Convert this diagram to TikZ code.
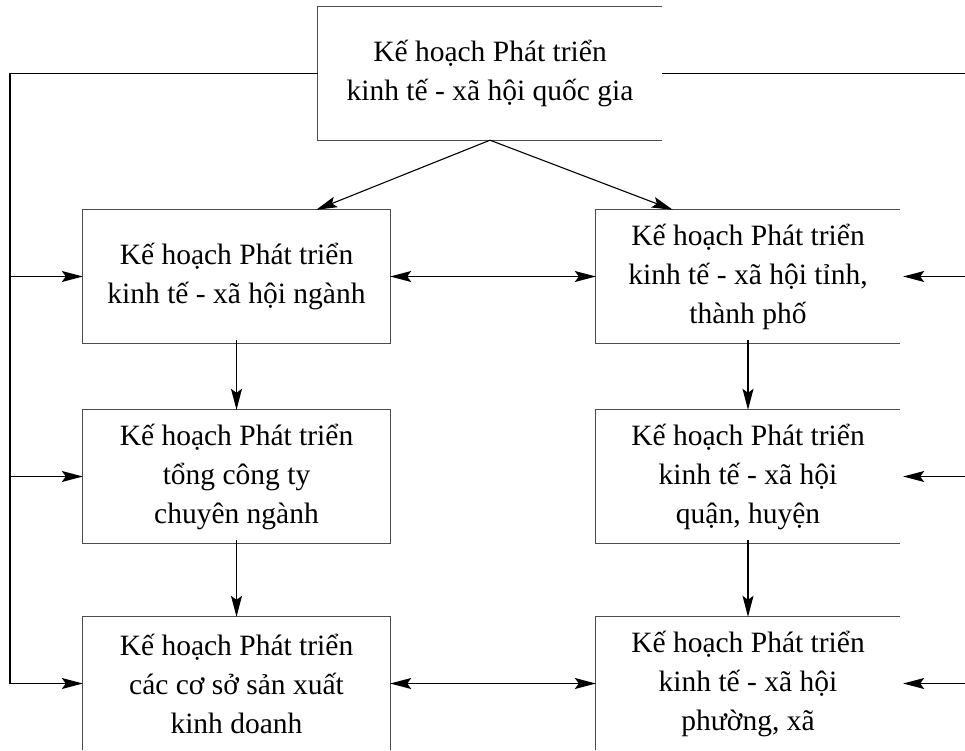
\documentclass[tikz,border=0pt]{standalone}
\usepackage{fontspec}
\setmainfont{Liberation Serif}
\usepackage{tikz}
\usetikzlibrary{arrows.meta,positioning,calc}

\begin{document}
\begin{tikzpicture}[x=1pt,y=-1pt,
  font=\fontsize{29.5}{39}\selectfont,
  plan/.style={align=center,minimum height=133pt,inner sep=0pt},
  edge/.style={draw=black!70,line width=1.3pt},
  arr/.style={->,>={Stealth[length=21pt,width=11pt,inset=4pt]},line width=1.1pt},
  darr/.style={<->,>={Stealth[length=21pt,width=11pt,inset=4pt]},line width=1.1pt},
]
  \useasboundingbox (0,0) rectangle (965,751);

  % levels
  \node[plan,minimum width=344pt] (qg) at (490,73.5) {Kế hoạch Phát triển\\kinh tế - xã hội quốc gia};
  \node[plan,minimum width=307pt] (nganh) at (236.5,276.5) {Kế hoạch Phát triển\\kinh tế - xã hội ngành};
  \node[plan,minimum width=304pt] (tinh) at (748,276.5) {Kế hoạch Phát triển\\kinh tế - xã hội tỉnh,\\thành phố};
  \node[plan,minimum width=307pt] (tct) at (236.5,476.5) {Kế hoạch Phát triển\\tổng công ty\\chuyên ngành};
  \node[plan,minimum width=304pt] (quan) at (748,476.5) {Kế hoạch Phát triển\\kinh tế - xã hội\\quận, huyện};
  \node[plan,minimum width=307pt] (csx) at (236.5,683.5) {Kế hoạch Phát triển\\các cơ sở sản xuất\\kinh doanh};
  \node[plan,minimum width=304pt] (phuong) at (748,683.5) {Kế hoạch Phát triển\\kinh tế - xã hội\\phường, xã};

  % borders (open where the page cuts them)
  \draw[edge] (qg.north east) -- (qg.north west) -- (qg.south west) -- (qg.south east);
  \draw[edge] (nganh.south west) rectangle (nganh.north east);
  \draw[edge] (tct.south west) rectangle (tct.north east);
  \draw[edge] (csx.south west) -- (csx.north west) -- (csx.north east) -- (csx.south east);
  \draw[edge] (tinh.north east) -- (tinh.north west) -- (tinh.south west) -- (tinh.south east);
  \draw[edge] (quan.north east) -- (quan.north west) -- (quan.south west) -- (quan.south east);
  \draw[edge] (phuong.north east) -- (phuong.north west) -- (phuong.south west);

  \coordinate (lbus) at (10,0);
  \coordinate (rbus) at (965,0);

  \draw[line width=1.1pt] (qg.west) -- (lbus |- qg.west) -- (lbus |- csx.west);
  \draw[line width=1.1pt] (qg.east) -- (rbus |- qg.east);
  \draw[arr] (lbus |- nganh.west) -- (nganh.west);
  \draw[arr] (lbus |- tct.west) -- (tct.west);
  \draw[arr] (lbus |- csx.west) -- (csx.west);
  \draw[arr] (rbus |- tinh.east) -- ([xshift=3pt]tinh.east);
  \draw[arr] (rbus |- quan.east) -- ([xshift=3pt]quan.east);
  \draw[arr] (rbus |- phuong.east) -- ([xshift=3pt]phuong.east);

  \draw[arr] (qg.south) -- ([xshift=-74pt]nganh.north east);
  \draw[arr] (qg.south) -- ([xshift=77pt]tinh.north west);
  \draw[darr] (nganh.east) -- (tinh.west);
  \draw[darr] (csx.east) -- (phuong.west);

  \draw[arr] ([yshift=3pt]nganh.south) -- (tct.north);
  \draw[arr] ([yshift=3pt]tct.south) -- (csx.north);
  \draw[arr] ([yshift=3pt]tinh.south) -- (quan.north);
  \draw[arr] ([yshift=3pt]quan.south) -- (phuong.north);
\end{tikzpicture}
\end{document}
